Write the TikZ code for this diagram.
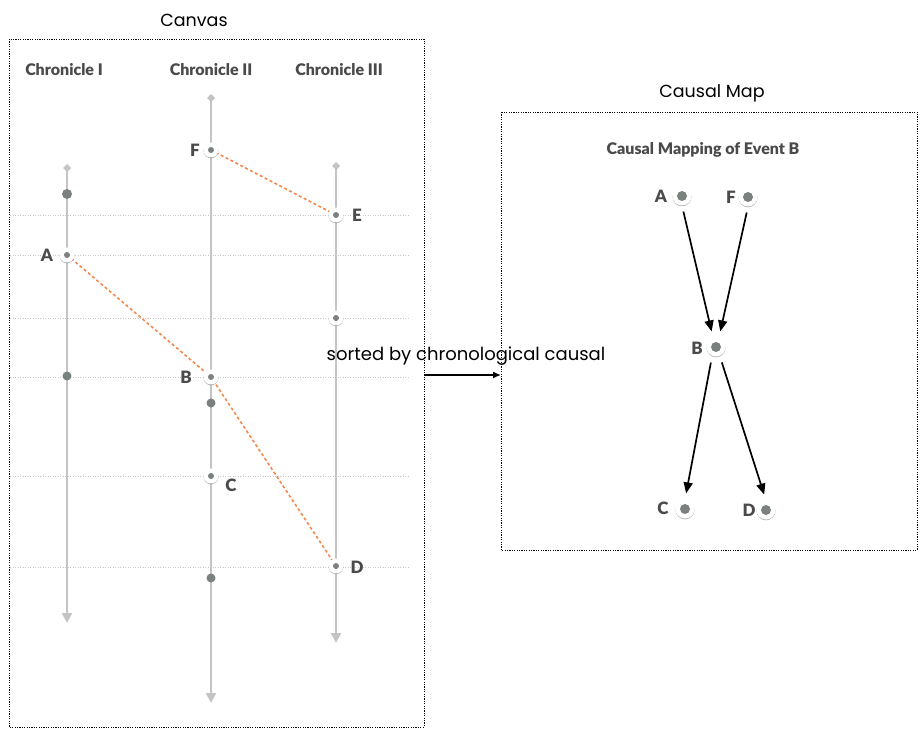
\documentclass[tikz,border=0pt]{standalone}
\usepackage{fontspec}
\setmainfont{Lato}
\newfontfamily\heavyfont{Lato Black}
\newfontfamily\geofont{Poppins}
\usetikzlibrary{arrows.meta,shadows}

\definecolor{railgray}{HTML}{C4C4C4}
\definecolor{dotgray}{HTML}{7B827E}
\definecolor{labelgray}{HTML}{4A4A4A}
\definecolor{linkorange}{HTML}{F5884A}
\definecolor{guidegray}{HTML}{C8C8C8}

\tikzset{
  frame/.style={draw=black, line width=0.8pt, dash pattern=on 1.2pt off 1.2pt},
  caption/.style={font=\geofont\fontsize{17.5}{19}\selectfont, text=black},
  heading/.style={font=\heavyfont\fontsize{16}{18}\selectfont, text=labelgray},
  rail/.style={draw=railgray, line width=2pt, {Diamond[length=8pt,width=8pt]}-{Triangle[length=10pt,width=10pt]}},
  guide/.style={draw=guidegray, line width=0.7pt, dash pattern=on 1pt off 1.5pt},
  event/.style={circle, fill=white, minimum size=15pt, inner sep=0pt,
    drop shadow={shadow xshift=0pt, shadow yshift=-0.8pt, opacity=0.3, fill=black},
    path picture={\fill[dotgray] (path picture bounding box.center) circle (3pt);}},
  bigevent/.style={circle, fill=white, minimum size=19pt, inner sep=0pt,
    drop shadow={shadow xshift=0pt, shadow yshift=-0.8pt, opacity=0.3, fill=black},
    path picture={\fill[dotgray] (path picture bounding box.center) circle (5pt);}},
  tick/.style={circle, fill=dotgray, inner sep=0pt},
  tag/.style={font=\heavyfont\fontsize{17}{19}\selectfont, text=labelgray, inner sep=0pt},
  link/.style={draw=linkorange, line width=1.6pt, dash pattern=on 3pt off 2.5pt},
  cause/.style={draw=black, line width=1.7pt, -{Triangle[length=11pt,width=9pt]}, shorten <=6pt, shorten >=6pt},
}

\begin{document}
\begin{tikzpicture}[x=1pt,y=-1pt]
\useasboundingbox (0,0) rectangle (923,730);

% ---------- canvas frame ----------
\draw[frame] (9,39) rectangle (424,727);
\node[caption] (canvaslbl) at (194,20) {Canvas};

\node[heading] (chr1) at (64,70) {Chronicle I};
\node[heading] (chr2) at (211,70) {Chronicle II};
\node[heading] (chr3) at (339,70) {Chronicle III};

% horizontal guides
\foreach \yy in {215,255,318,377,476,567}
  \draw[guide] (10,\yy) -- (410,\yy);

% timelines
\coordinate (r1top) at (67,164);
\coordinate (r1bot) at (67,623);
\coordinate (r2top) at (211,94);
\coordinate (r2bot) at (211,703);
\coordinate (r3top) at (336,162);
\coordinate (r3bot) at (336,643);
\draw[rail] (r1top) -- (r1bot);
\draw[rail] (r2top) -- (r2bot);
\draw[rail] (r3top) -- (r3bot);

% plain ticks
\node[tick, minimum size=10pt] (t1) at (67,194) {};
\node[tick, minimum size=9pt] (t2) at (67,376) {};
\node[tick, minimum size=9pt] (t3) at (211,403) {};
\node[tick, minimum size=9pt] (t4) at (211,578) {};

% causal links
\coordinate (fpos) at (211,150);
\coordinate (epos) at (336,215);
\coordinate (apos) at (67,255);
\coordinate (bpos) at (211,377);
\coordinate (dpos) at (336,566);
\draw[link] (fpos) -- (epos);
\draw[link] (apos) -- (bpos) -- (dpos);

% events
\node[event] (evF) at (fpos) {};
\node[event] (evE) at (epos) {};
\node[event] (evA) at (apos) {};
\node[event] (evX) at (336,318) {};
\node[event] (evB) at (bpos) {};
\node[event] (evC) at (211,476) {};
\node[event] (evD) at (dpos) {};

\node[tag] (lF) at (195,150) {F};
\node[tag] (lE) at (357,215) {E};
\node[tag] (lA) at (47,255) {A};
\node[tag] (lB) at (186,377) {B};
\node[tag] (lC) at (231,485) {C};
\node[tag] (lD) at (357,567) {D};

% ---------- causal map ----------
\draw[frame] (501,112) rectangle (917,550);
\node[caption] (maplbl) at (712,93) {Causal Map};
\node[heading] (maptitle) at (703,150) {Causal Mapping of Event B};

\node[bigevent] (mA) at (682,196) {};
\node[bigevent] (mF) at (748,197) {};
\node[bigevent] (mB) at (716,347) {};
\node[bigevent] (mC) at (685,509) {};
\node[bigevent] (mD) at (766,510) {};

\node[tag] (mlA) at (661,196) {A};
\node[tag] (mlF) at (731,197) {F};
\node[tag] (mlB) at (697,348) {B};
\node[tag] (mlC) at (663,508) {C};
\node[tag] (mlD) at (749,510) {D};

\draw[cause] (mA.south) -- ([xshift=-3pt]mB.north);
\draw[cause] (mF.south) -- ([xshift=3pt]mB.north);
\draw[cause] ([xshift=-4pt]mB.south) -- (mC.north);
\draw[cause] ([xshift=4pt]mB.south) -- (mD.north);

% ---------- transfer arrow ----------
\coordinate (src) at (425,375);
\coordinate (dst) at (501,375);
\draw[draw=black, line width=1.4pt, -{Latex[length=8pt,width=7pt]}] (src) -- (dst);
\node[caption, font=\geofont\fontsize{18}{20}\selectfont] (sortlbl) at (466,356) {sorted by chronological causal};
\end{tikzpicture}
\end{document}
